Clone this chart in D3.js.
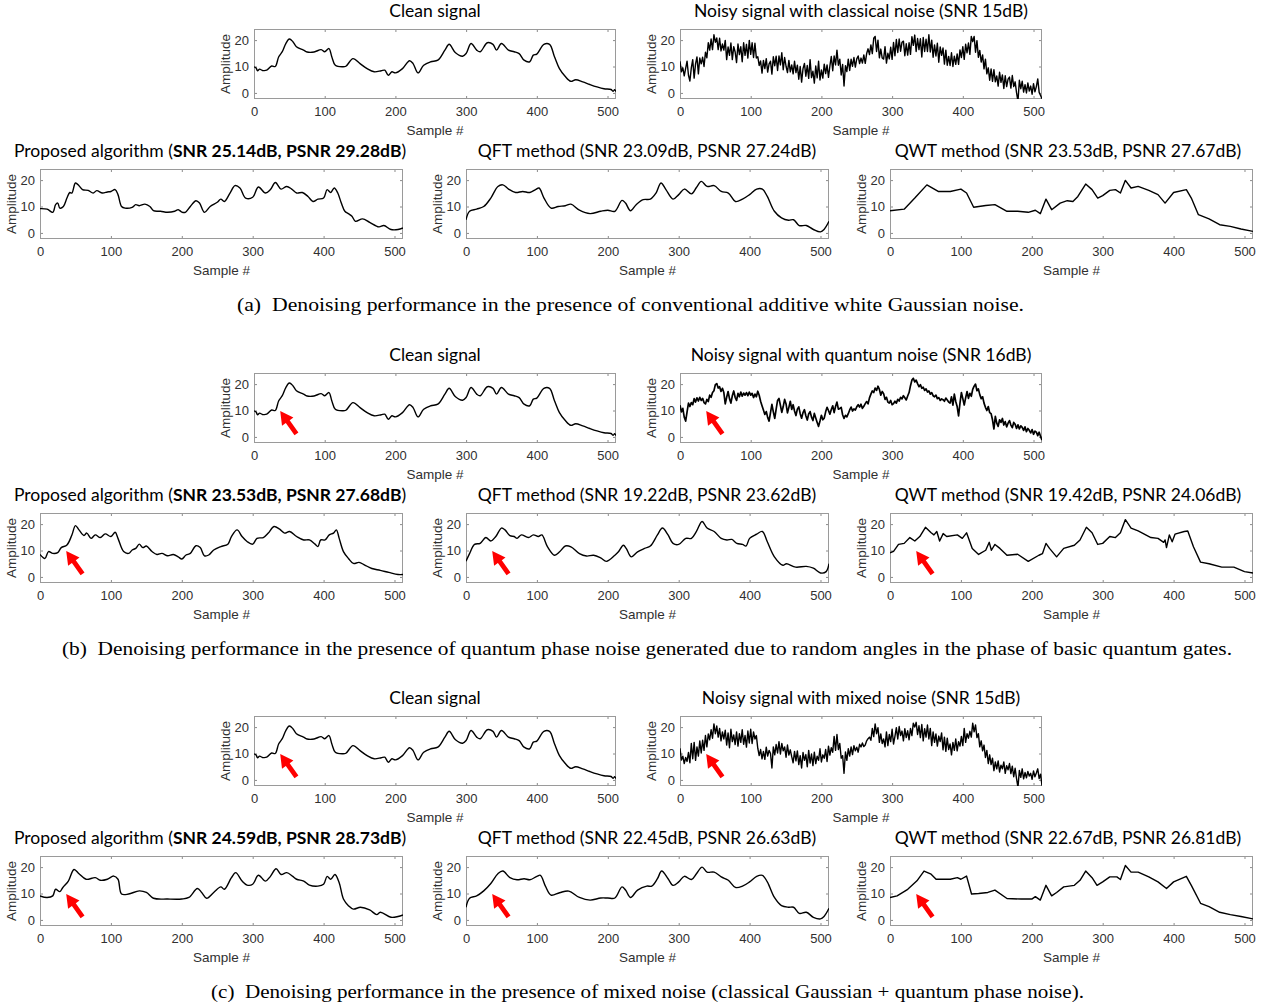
<!DOCTYPE html>
<html>
<head>
<meta charset="utf-8">
<script src="https://cdn.jsdelivr.net/npm/d3@7"></script>
<style>
  body { margin: 0; background: #fff; }
  .tick text { font-family: "Liberation Sans", Arial, sans-serif; font-size: 13px; fill: #303030; }
  .axlabel { font-family: "Liberation Sans", Arial, sans-serif; font-size: 13.5px; fill: #303030; }
  .ptitle { font-family: Lato, "Open Sans", sans-serif; font-size: 17.5px; fill: #000; }
  .caption { font-family: "Liberation Serif", "Times New Roman", serif; font-size: 18.5px; fill: #000; }
</style>
</head>
<body>
<svg id="fig" width="1271" height="1008"></svg>
<script>
// ---- data ----
var xTicks = [0, 100, 200, 300, 400, 500];
var yTicks = [0, 10, 20];

// clean test signal, [sample, amplitude]
var cleanSignal = [[0,9.9],[3,9.4],[5,8.4],[8,9],[12,8.5],[18,8.6],[25,10.2],[30,10],[35,13.7],[40,15.6],[45,18.7],[50,20.4],[55,19.4],[60,17.5],[70,16.2],[75,15.5],[85,15.5],[95,16.4],[100,15.6],[106,16.8],[110,13.7],[115,10.5],[125,9.9],[130,10.1],[140,13],[150,11.1],[160,9.2],[170,8],[180,8.4],[185,8.6],[190,6.7],[195,8],[200,7.6],[210,9.2],[220,12.2],[225,11.1],[232,7.6],[240,10.5],[250,11.8],[260,12.4],[270,16.2],[276,18.4],[285,15.2],[295,13.9],[300,14.9],[307,18.7],[315,16.2],[320,15.6],[330,19],[338,18.4],[343,16.2],[350,18.7],[360,16.2],[368,15.6],[375,14.9],[382,12.4],[390,11.8],[395,14.3],[400,14.7],[410,18.4],[418,18.4],[425,13.7],[432,9.2],[440,6.3],[448,4.4],[455,5],[465,4.2],[475,3.2],[485,2.3],[495,1.6],[505,1.3],[508,0.6],[510,1.2],[512,0.5]];

// noisy signals, every 2nd sample (0, 2, ..., 512)
var noisyClassical = [
  12,8,9.5,6.5,9.3,12,6.7,4.5,9.5,12.6,5.6,11,13.6,7.2,13.2,11,
  13.5,10,15.4,13.3,19,16.2,20.4,16.4,22,19.2,20.8,16.4,20.7,15.9,18.5,16.2,
  19.9,12.6,17.4,14.2,18.9,12.6,17.5,15.5,11.5,18.5,14.5,17.5,11.8,19,14.2,18.4,
  13.2,19.9,14.6,19,13.4,18.8,13.2,13.7,10.4,12.1,7.5,12.3,9.2,13,7.9,11,
  12,7.1,13.7,10.3,13.9,8.5,14,10.6,15.2,8.8,13.4,10.1,7.7,12.3,8,10.6,
  7.2,12,7.7,10.5,5.2,10,4.1,9.2,11.2,6.3,10.4,5.5,12.6,5.8,8.2,3.7,
  10.2,5.7,12,4.9,8.7,5.6,10.9,7.3,10.6,5.9,10.2,13.8,8.4,14,10.6,16.2,
  10.5,12.8,6.8,10.8,2.6,10.3,8.1,12.8,8.5,12.8,10.1,13.4,9.8,12.9,14,11.1,
  13.2,11.3,14.4,11.2,14.9,16.7,14.5,18.2,14.9,20.7,21.4,15.7,20,13.3,16.6,13.2,
  12.8,17.5,11.3,15,12.9,17.3,12.7,19.1,14.1,20.2,15.3,20.4,15.8,19.2,19.6,14.1,
  18.6,14.3,19,14.6,21.3,18,21.9,15.7,20.6,16.4,20.5,13.6,21,15.7,20.3,15.7,
  22,15.5,20,13.5,18.2,14,18.8,11.6,17.4,14.2,17,10.9,16.2,10.5,13.8,10.4,
  15.2,10,13.9,10.8,14.8,10.8,16.3,13.4,17.5,12.7,18.4,15.2,18.9,14.6,21.4,19.4,
  21.4,15.4,19.8,13.5,16.1,11.7,14.4,9.1,12.8,7.2,9.5,4.8,9.1,4.4,8.8,4.2,
  6.4,2.6,7.8,4,6.8,1.7,6.5,2.4,5.2,6,1.8,6.6,2.4,4.2,0.1,-3.2,
  4.8,1.6,4.4,0.3,3.1,0,3.8,0.7,2.6,-0.5,3.5,0.4,2.4,5.3,0.2,-1,
  -2.2];

var noisyQuantum = [
  12,9.5,10.8,7.5,6,9.5,12.8,11.5,13,12.2,14.5,13.2,14.8,13.6,15,13.8,
  14.6,13,12.5,14.2,13.4,15.8,15,16.8,17.5,19.8,20.2,18.5,19,17.2,18.4,16.8,
  12.5,15,17.2,14.5,12.8,15.6,17.4,15,13.8,16.5,15.2,17,15.4,16.6,15.8,16.8,
  15.6,17,15.8,16.5,14.9,16.2,15.2,17.3,15.8,13.5,11.8,10.2,8.5,9.6,7.4,6,
  9.2,12.3,9.5,7,10.5,13.8,14.6,12,9.3,11.5,14.2,12.5,9.1,11.2,13.5,10.4,
  12.2,9.8,8.1,10.5,11.4,8.8,7.1,9.2,10.3,8,6.4,8.7,9.6,7.5,6.2,8.9,
  7.2,5.5,4,6,8.2,6.5,7.1,9.5,11.2,10,8.6,10.4,11.8,9.2,11.5,13.2,
  10.5,10.8,11.2,8.4,7,8.2,7.6,8.8,10.2,11.3,9.8,10.6,10.2,11.4,12.2,11.3,
  12.4,10.8,11.6,12.6,13.4,12.5,14.8,16.2,17.4,16.8,18.5,17.6,19.2,18,15.8,17.2,
  16.4,14.2,15,13.2,12.8,13.8,12.2,12.6,13.5,12.8,14.2,13.6,15,14.4,15.6,14.8,
  14,15.5,16.8,19.4,21.5,22.2,20.8,21.5,20.2,19,19.8,18.4,18.8,17.6,18.2,17,
  17.4,16.2,16.8,15.6,15.2,15.8,14.5,14.9,13.8,14.4,14.1,13.5,14.7,14,13.2,12.8,
  15.2,12,16.2,13.4,11.5,8,12.8,16.8,14.5,12.1,14.8,17.2,14.6,16.5,15.4,18,
  19.2,20,17.5,18.2,16,14.5,15.2,12.8,11.2,10,11.5,9.2,8.8,6.5,3,7.8,
  5.2,4,6.5,5.5,7,4.5,5.8,3.8,5.2,6.2,4.5,3.5,5.5,4.8,3.2,4.6,
  3,4.2,3.6,2.5,3.8,2,3.2,2.5,1.5,2.8,1,2.2,1.8,0.5,1.8,0.2,
  -1.2];

var noisyMixed = [
  12,7.5,9,6.2,8.5,7,10.4,6.5,13.8,8,14.2,7.4,12.5,9,14.8,10.2,
  15,11.2,16.8,12.5,17.4,15.2,19,15.8,21.2,17.5,20.4,16.2,19.5,14.8,18.2,15.5,
  18.8,13.2,17.8,12.2,19.2,14.5,17,13.4,18.2,12.8,17.5,14.2,19,13.5,16.8,12.4,
  18.5,14,19.2,13.8,18.2,15.5,16.8,12,9.2,11.5,8,10.8,7.8,12.4,9,11.2,
  10,4.5,12.5,9.5,13.4,10.2,14.5,9.8,13.8,11,12.5,8.6,13.2,9.4,11.4,8.8,
  6.5,10.8,7.2,11,5.8,9.2,4.5,10.4,7.4,9.6,5,11.2,6.4,9.8,5.4,10.5,
  6.2,9,7.4,11.8,6.8,9.5,8.2,11.5,7,12.8,9.4,12.2,10.5,16.5,11.2,17.2,
  11.5,13.8,8.2,9.2,2.5,10.6,7.4,11.8,9,12.5,9.6,13,11,12.4,10.5,13.5,
  12.5,14,12.6,13.2,14.8,15.6,16.2,15,19.5,16.4,21.2,17.5,19.8,14.2,17.4,13.8,
  15.5,12.5,18.2,13,17.2,14.5,19.2,13.6,16.5,19.8,15.5,20.2,16.8,18.5,14.8,19.4,
  16,18.6,15.2,19.5,16.8,21.5,20,21.8,17.2,20.5,16,21,14.8,19.4,16.2,20.8,
  15.5,19.5,13,18.2,14.2,17.4,12.8,16.6,14.5,17.8,11.4,16.2,10.8,15.8,11.5,13.6,
  9.5,14.2,11.2,15.5,11,14.5,12.8,16.5,13,19.5,14.2,17.5,15.8,18.4,16.2,21.5,
  18.2,20.8,16,17.5,12.5,14.8,11,13.2,8.5,11.2,6.2,9.5,5.8,8.2,3.5,6.8,
  4.2,7.2,3,5.6,4.2,6.8,2.5,5.4,3.8,6.2,2.4,5.2,1.2,4.4,0.5,-2.8,
  3.6,1,4.2,0.4,2.8,0.8,3.2,1.5,2.5,0.2,3.4,1.2,2.6,4.2,0.5,2.2,
  -2.2];

// denoised outputs, [sample, amplitude]
var proposedA = [[0,9.2],[10,9],[18,7.8],[22,10.7],[25,11.3],[28,9.4],[33,10],[38,13.2],[42,15.3],[45,15.1],[50,18.9],[55,17.9],[60,16.4],[68,16.1],[75,15.1],[80,16],[88,15.1],[95,15.5],[100,15.7],[106,16.4],[110,14.5],[115,10],[120,9.4],[130,9.7],[135,10.7],[140,10.3],[148,10.9],[155,10],[160,8.4],[170,8.2],[180,7.8],[190,8.2],[195,8.8],[200,7.9],[205,7.8],[212,10],[220,12.2],[225,11.3],[232,7.8],[240,10],[250,11.6],[255,12.8],[260,11.9],[268,15.1],[275,17.9],[282,17],[290,13.2],[300,13.5],[308,17.4],[318,15.1],[325,16.4],[332,19.1],[340,16.6],[348,17.6],[355,16.6],[362,15.1],[370,15.3],[378,13.8],[385,11.9],[392,12.8],[400,13.2],[405,16.4],[410,15.3],[415,17],[420,15.1],[425,11.3],[430,8.2],[435,7.3],[440,6.3],[445,4.4],[455,5.3],[465,4],[478,2.3],[485,2.8],[495,1.3],[505,1.3],[512,1.9]];
var qftA = [[0,5],[5,8.2],[15,9],[25,10],[35,13.2],[45,17.6],[52,18.2],[60,16.6],[70,15.3],[80,15.7],[90,15.3],[98,16.4],[103,17],[110,13.2],[120,9.4],[130,10],[140,10.3],[148,10.9],[160,8.6],[175,7.3],[190,8.2],[200,8.6],[210,8.2],[220,12.3],[225,11.3],[232,8.4],[240,10.7],[250,12.6],[260,12.8],[268,15.1],[275,18.9],[282,16.4],[292,12.8],[300,14.5],[308,16.6],[318,14.8],[325,17.2],[332,19.5],[340,17.6],[350,17.9],[360,15.7],[370,15.1],[380,11.9],[390,12.8],[400,14.5],[410,16.6],[418,16.6],[425,13.8],[435,8.2],[445,5.7],[455,4.8],[462,5],[470,2.8],[480,2.8],[490,1.3],[500,0.4],[505,1.3],[512,4.4]];
var qwtA = [[0,8.4],[20,9],[35,13.2],[52,18.2],[68,15.7],[85,15.7],[100,16.6],[108,15.1],[118,9.7],[135,10.4],[148,10.7],[165,8.2],[180,8.2],[195,7.8],[205,8.6],[212,7.3],[220,12.8],[228,8.8],[240,11.3],[250,12.2],[258,11.9],[265,13.8],[276,18.5],[285,16.4],[293,13.2],[300,14.1],[310,16.1],[318,16.4],[325,15.1],[332,19.9],[340,17],[350,17.6],[365,16.1],[378,14.5],[388,11.3],[400,15.3],[418,16.4],[425,13.2],[435,6.9],[450,5.3],[465,3.1],[480,2.5],[495,1.5],[512,0.6]];

var proposedB = [[0,8.5],[7,7],[12,9.6],[18,8.9],[25,9.2],[30,11.1],[38,12.1],[45,15.9],[50,19.4],[55,17.8],[62,15.7],[66,16.6],[72,14.6],[78,15.9],[85,14.9],[92,16.3],[100,15.3],[106,16.9],[110,14.6],[118,9.6],[125,8.9],[130,10.2],[135,10.8],[140,12.4],[145,11.1],[150,11.7],[158,9.6],[165,8.5],[172,8.9],[180,8],[188,8.5],[195,7.6],[200,6.8],[206,8.3],[212,8.9],[220,11.8],[226,11.1],[232,8],[238,8.3],[245,10.2],[255,11.5],[265,12.4],[270,15.3],[278,17.8],[285,15.3],[292,13.4],[300,12.4],[306,14.6],[315,14.9],[322,16.6],[330,19.1],[338,18.1],[345,16.6],[352,17.2],[362,15.3],[372,14],[380,14],[388,12.4],[392,11.5],[396,14],[402,14],[408,15.9],[414,16.6],[418,17.8],[422,14.6],[428,9.6],[435,7],[442,5.1],[450,5.5],[458,4.5],[468,3.2],[480,2.5],[492,1.7],[505,0.9],[512,0.9]];
var qftB = [[0,5.9],[5,8.8],[12,12.3],[20,12.7],[28,14.9],[35,13.6],[42,15.3],[50,18.5],[55,17.8],[62,15.6],[68,15.3],[72,14.6],[78,15.9],[88,14.9],[95,15.9],[102,15.3],[107,15.9],[115,11.4],[125,8.2],[132,9.5],[140,11.7],[148,11.4],[160,8.8],[170,7.9],[180,8.2],[190,7.2],[198,5.9],[210,8.2],[215,9.5],[222,12],[226,10.8],[233,7.6],[242,9.5],[252,10.8],[260,11.7],[270,15.9],[277,18.5],[285,15.9],[292,12.7],[300,12.3],[310,14.6],[318,14.6],[325,17.2],[333,21],[340,18.5],[350,17.2],[360,14.6],[368,14],[375,14.2],[382,12.7],[390,12.3],[395,11.7],[400,14.6],[410,16.2],[418,17.2],[425,13.3],[435,7.6],[447,4.4],[452,5],[465,3.7],[480,4],[490,3.3],[500,1.5],[508,2],[512,5]];
var qwtB = [[0,9.1],[5,9.7],[12,12.3],[20,12.7],[28,14.9],[35,13.6],[42,15.3],[50,18.8],[58,16.7],[62,15.9],[66,17.2],[70,13.6],[75,16.4],[80,15.3],[95,15.9],[102,14.6],[108,16.7],[116,10.8],[125,8.5],[135,10.1],[140,13.1],[143,10.1],[148,12.3],[155,10.8],[165,8.2],[180,8.6],[195,5.9],[210,8.2],[215,8.8],[220,12.7],[225,10.8],[235,7.6],[245,10.8],[260,12],[268,14],[277,18.8],[285,16.7],[293,12.3],[300,12.7],[310,15.3],[318,14.9],[325,16.7],[332,21.7],[340,18.5],[350,17.4],[368,14.9],[378,14.6],[386,13.1],[388,14],[390,11.1],[394,15.9],[398,13.3],[402,16.2],[415,17.2],[420,17.4],[428,11.4],[438,5.6],[450,5],[468,3.7],[485,3.7],[500,2],[512,1.5]];

var proposedC = [[0,9.1],[10,8.5],[18,9.1],[22,11.6],[28,10.7],[32,12.2],[40,14.7],[48,19.1],[55,17.5],[65,15.4],[78,16],[85,15],[95,15.4],[104,16.6],[110,15.4],[115,9.8],[125,9.8],[140,11],[150,10.4],[160,8.2],[180,7.9],[200,7.9],[210,8.5],[222,11.9],[228,10.4],[235,8.2],[245,10.4],[255,12.5],[260,11.6],[270,16],[276,17.9],[285,14.7],[292,13.2],[300,13.5],[308,16.9],[318,14.7],[325,16.5],[333,19.4],[340,17.2],[348,17.9],[356,16.6],[362,15.4],[372,14.7],[380,13.2],[392,12.8],[400,13.5],[405,16.5],[410,15.4],[416,17.2],[422,14.1],[428,7.9],[435,5.4],[442,4.1],[452,4.8],[465,3.8],[475,2],[480,2.9],[495,1],[505,1.3],[512,1.9]];
var qftC = [[0,4.8],[5,8.2],[15,9.1],[25,11],[35,13.8],[45,17.5],[52,18.5],[62,16],[72,15.2],[82,15.6],[90,15.2],[100,16.5],[105,16.9],[112,12.8],[120,9.4],[132,10.3],[145,10.9],[160,8.5],[175,7.5],[190,8.3],[200,8.3],[210,8.3],[220,12.5],[225,11.3],[232,8.5],[242,11.3],[255,12.8],[262,12.8],[270,15.6],[276,18.5],[285,15.6],[292,13.1],[300,14.4],[308,16.5],[318,15.3],[325,17.5],[333,20],[340,18.1],[350,18.1],[360,16.3],[370,15],[380,12.3],[390,12.8],[400,14.4],[410,16.5],[418,16.9],[425,14.4],[435,8.5],[445,5.4],[455,4.8],[462,4.8],[470,2.5],[480,2.9],[490,1],[500,0.4],[505,1.3],[512,4.4]];
var qwtC = [[0,8.5],[10,9.1],[25,11.6],[38,14.8],[48,18.5],[58,17.3],[65,15.4],[85,15.4],[95,16],[100,15.4],[108,16.6],[115,9.8],[125,10],[138,10.4],[148,11.3],[165,8.1],[185,7.9],[200,7.9],[205,8.8],[212,7.5],[220,13.1],[228,9.1],[235,10.4],[245,12.5],[260,13.1],[268,15],[276,18.5],[285,16],[292,13.1],[300,14.4],[310,16.3],[320,16.3],[325,15.3],[332,20.6],[340,18.1],[350,18.1],[365,16.3],[378,14.4],[390,11.9],[400,14.4],[418,16.5],[425,13.1],[438,6.3],[450,5],[465,2.9],[480,2],[495,1.3],[512,0.4]];

// titles
var noisyTitles = ["Noisy signal with classical noise (SNR 15dB)",
                   "Noisy signal with quantum noise (SNR 16dB)",
                   "Noisy signal with mixed noise (SNR 15dB)"];
var proposedScores = ["SNR 25.14dB, PSNR 29.28dB", "SNR 23.53dB, PSNR 27.68dB", "SNR 24.59dB, PSNR 28.73dB"];
var qftScores = ["SNR 23.09dB, PSNR 27.24dB", "SNR 19.22dB, PSNR 23.62dB", "SNR 22.45dB, PSNR 26.63dB"];
var qwtScores = ["SNR 23.53dB, PSNR 27.67dB", "SNR 19.42dB, PSNR 24.06dB", "SNR 22.67dB, PSNR 26.81dB"];
var captions = [
  "(a)  Denoising performance in the presence of conventional additive white Gaussian noise.",
  "(b)  Denoising performance in the presence of quantum phase noise generated due to random angles in the phase of basic quantum gates.",
  "(c)  Denoising performance in the presence of mixed noise (classical Gaussian + quantum phase noise)."];
var arrowOn = [false, true, true];
var arrowTail = [60, 1.2], arrowTip = [37, 9.8];

// ---- layout ----
var svg = d3.select("#fig");
var sectionTop = [0, 344, 687];
var axH = 70;
var topRowX = [254, 680], topRowW = 362;
var botRowX = [40, 466, 890], botRowW = 363;
var botTitleX = [210, 647, 1068];
var captionX = [237, 62, 211], captionW = [787, 1170, 873];
var clipCount = 0;

function toPoints(values) {
  return values.map(function(v, i) { return [i * 2, v]; });
}

// filled arrow, tail -> tip, in pixels
function arrowShape(x1, y1, x2, y2) {
  var dx = x2 - x1, dy = y2 - y1, len = Math.sqrt(dx*dx + dy*dy);
  var ux = dx / len, uy = dy / len, px = -uy, py = ux;
  var headL = 13, headW = 7, shaftW = 2.4;
  var bx = x2 - ux * headL, by = y2 - uy * headL;
  var pts = [
    [x1 + px*shaftW, y1 + py*shaftW],
    [bx + px*shaftW, by + py*shaftW],
    [bx + px*headW, by + py*headW],
    [x2, y2],
    [bx - px*headW, by - py*headW],
    [bx - px*shaftW, by - py*shaftW],
    [x1 - px*shaftW, y1 - py*shaftW]];
  return "M" + pts.map(function(p) { return p[0].toFixed(1) + "," + p[1].toFixed(1); }).join("L") + "Z";
}

function styleAxis(sel) {
  sel.select(".domain").remove();
  sel.selectAll(".tick line").attr("stroke", "#8a8a8a");
}

function drawPanel(left, top, width, points, curve, strokeW, showArrow) {
  var x = d3.scaleLinear().domain([0, 512]).range([left, left + width]);
  var y = d3.scaleLinear().domain([-2.3, 24.2]).range([top + axH, top]);
  var g = svg.append("g");

  var id = "clip" + (clipCount++);
  svg.append("clipPath").attr("id", id)
     .append("rect").attr("x", left).attr("y", top).attr("width", width).attr("height", axH);

  g.append("g").attr("transform", "translate(0," + (top + axH) + ")")
   .call(d3.axisBottom(x).tickValues(xTicks).tickSizeInner(-3).tickSizeOuter(0).tickPadding(8))
   .call(styleAxis);
  g.append("g").attr("transform", "translate(0," + top + ")")
   .call(d3.axisTop(x).tickValues(xTicks).tickSizeInner(-3).tickSizeOuter(0).tickFormat(""))
   .call(styleAxis);
  g.append("g").attr("transform", "translate(" + left + ",0)")
   .call(d3.axisLeft(y).tickValues(yTicks).tickSizeInner(-3).tickSizeOuter(0).tickPadding(5))
   .call(styleAxis);
  g.append("g").attr("transform", "translate(" + (left + width) + ",0)")
   .call(d3.axisRight(y).tickValues(yTicks).tickSizeInner(-3).tickSizeOuter(0).tickFormat(""))
   .call(styleAxis);

  g.append("rect")
   .attr("x", left + 0.5).attr("y", top + 0.5)
   .attr("width", width - 1).attr("height", axH - 1)
   .attr("fill", "none").attr("stroke", "#9a9a9a").attr("stroke-width", 1);

  var line = d3.line().x(function(d) { return x(d[0]); }).y(function(d) { return y(d[1]); }).curve(curve);
  g.append("path").datum(points)
   .attr("clip-path", "url(#" + id + ")")
   .attr("d", line)
   .attr("fill", "none").attr("stroke", "#000")
   .attr("stroke-width", strokeW).attr("stroke-linejoin", "round");

  g.append("text").attr("class", "axlabel")
   .attr("x", left + width / 2).attr("y", top + axH + 36)
   .attr("text-anchor", "middle").text("Sample #");
  g.append("text").attr("class", "axlabel")
   .attr("transform", "translate(" + (left - 24) + "," + (top + axH / 2) + ") rotate(-90)")
   .attr("text-anchor", "middle").text("Amplitude");

  if (showArrow) {
    g.append("path")
     .attr("d", arrowShape(x(arrowTail[0]), y(arrowTail[1]), x(arrowTip[0]), y(arrowTip[1])))
     .attr("fill", "#ff0000");
  }
}

function drawTitle(cx, baseY, parts) {
  var t = svg.append("text").attr("class", "ptitle")
             .attr("x", cx).attr("y", baseY).attr("text-anchor", "middle");
  parts.forEach(function(p) {
    t.append("tspan").attr("font-weight", p.bold ? "bold" : null).text(p.text);
  });
}

var noisySets = [noisyClassical, noisyQuantum, noisyMixed];
var proposedSets = [proposedA, proposedB, proposedC];
var qftSets = [qftA, qftB, qftC];
var qwtSets = [qwtA, qwtB, qwtC];
var smooth = d3.curveCatmullRom.alpha(0.5);

sectionTop.forEach(function(oy, s) {
  var tTop = 29 + oy, bTop = 169 + oy;

  drawPanel(topRowX[0], tTop, topRowW, cleanSignal, smooth, 1.4, arrowOn[s]);
  drawTitle(topRowX[0] + topRowW / 2, tTop - 12, [{text: "Clean signal"}]);

  drawPanel(topRowX[1], tTop, topRowW, toPoints(noisySets[s]), d3.curveLinear, s == 1 ? 1.7 : 1.4, arrowOn[s]);
  drawTitle(topRowX[1] + topRowW / 2, tTop - 12, [{text: noisyTitles[s]}]);

  drawPanel(botRowX[0], bTop, botRowW, proposedSets[s], smooth, 1.4, arrowOn[s]);
  drawTitle(botTitleX[0], bTop - 12, [{text: "Proposed algorithm ("}, {text: proposedScores[s], bold: true}, {text: ")"}]);

  drawPanel(botRowX[1], bTop, botRowW, qftSets[s], smooth, 1.4, arrowOn[s]);
  drawTitle(botTitleX[1], bTop - 12, [{text: "QFT method (" + qftScores[s] + ")"}]);

  drawPanel(botRowX[2], bTop, botRowW, qwtSets[s], d3.curveLinear, 1.4, arrowOn[s]);
  drawTitle(botTitleX[2], bTop - 12, [{text: "QWT method (" + qwtScores[s] + ")"}]);

  svg.append("text").attr("class", "caption")
     .attr("x", captionX[s]).attr("y", 311 + oy)
     .attr("textLength", captionW[s]).attr("lengthAdjust", "spacingAndGlyphs")
     .attr("xml:space", "preserve")
     .text(captions[s]);
});
</script>
</body>
</html>
